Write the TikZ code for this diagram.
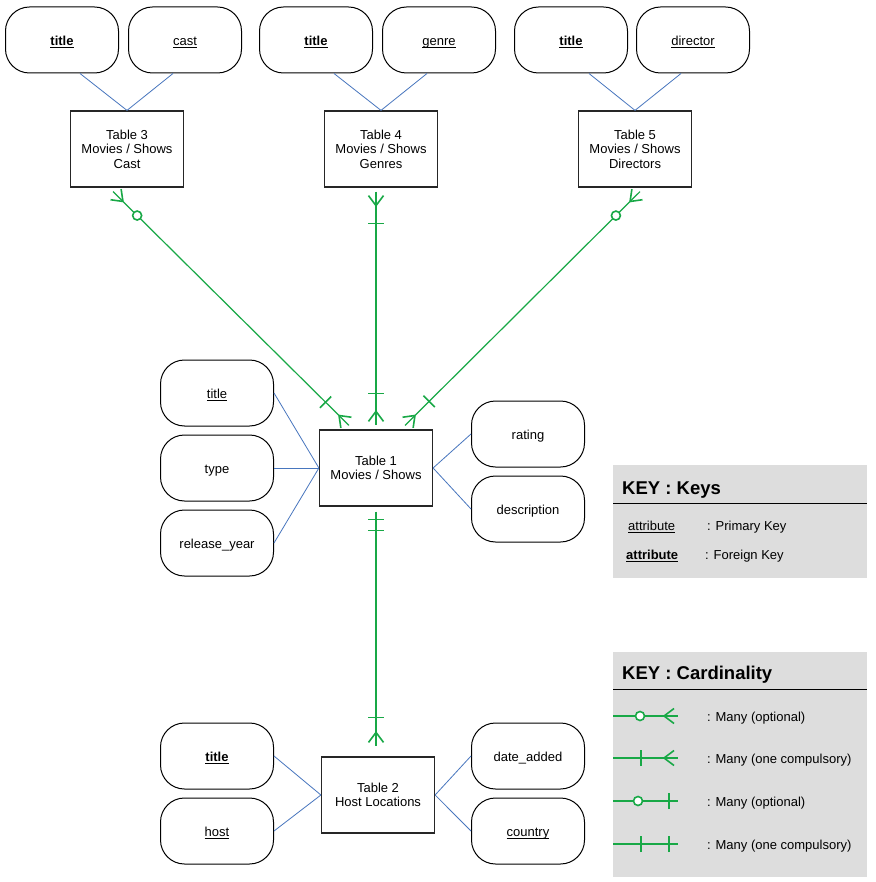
\documentclass[tikz,border=0pt]{standalone}
\usepackage{amsmath}
\usepackage{fontspec}
\setmainfont{Liberation Sans}
\usepackage{tikz}
\usetikzlibrary{calc}
\usetikzlibrary{decorations.markings}

\definecolor{relgreen}{RGB}{24,168,70}
\definecolor{linkblue}{RGB}{72,118,190}
\definecolor{keygray}{RGB}{221,221,221}

\newcommand{\pkey}[1]{\underline{\smash[b]{#1}}}
\newcommand{\fkey}[1]{\textbf{\underline{\smash[b]{#1}}}}

\tikzset{
  attr/.style={draw, line width=1pt, rounded corners=24pt, minimum width=113pt, minimum height=66pt, text height=13.5pt, text depth=2.5pt},
  tbl/.style={draw=black!85, line width=1.2pt, minimum width=113pt, minimum height=76pt, align=center},
  link/.style={draw=linkblue, line width=0.8pt},
  rel/.style={draw=relgreen, line width=1.2pt, postaction={decorate}},
  mk/.style={draw=relgreen, line width=1.6pt},
  many start/.style={decoration={markings, mark=at position 4pt with {\draw[mk] (10pt,0) -- (0,7.5pt) (10pt,0) -- (0,-7.5pt);}}},
  many end/.style={decoration={markings, mark=at position -4pt with {\draw[mk] (-10pt,0) -- (0,7.5pt) (-10pt,0) -- (0,-7.5pt);}}},
  one at/.style={decoration={markings, mark=at position #1 with {\draw[mk] (0,-8pt) -- (0,8pt);}}},
  zero at/.style={decoration={markings, mark=at position #1 with {\draw[mk, fill=white] (0,0) circle (4.5pt);}}},
  keyhead/.style={anchor=west, inner sep=0pt, font=\fontsize{18.5}{20}\selectfont\bfseries},
  keytext/.style={anchor=west, inner sep=0pt}
}

\begin{document}
\begin{tikzpicture}[x=1pt, y=-1pt, every node/.style={font=\fontsize{13}{14.5}\selectfont}]
      \fill[white] (0, 0) rectangle (875, 882);
      \useasboundingbox (0, 0) rectangle (875, 882);

      % top tables
      \node [attr] (ttl3) at (62, 40) {\fkey{title}};
      \node [attr] (cast3) at (185, 40) {\pkey{cast}};
      \node [tbl] (tbl3) at (127, 149) {Table 3\\Movies / Shows\\Cast};
      \node [attr] (ttl4) at (316, 40) {\fkey{title}};
      \node [attr] (genre4) at (439, 40) {\pkey{genre}};
      \node [tbl] (tbl4) at (381, 149) {Table 4\\Movies / Shows\\Genres};
      \node [attr] (ttl5) at (571, 40) {\fkey{title}};
      \node [attr] (dir5) at (693, 40) {\pkey{director}};
      \node [tbl] (tbl5) at (635, 149) {Table 5\\Movies / Shows\\Directors};

      \draw [link] ($(ttl3.south)+(18, 0)$) -- (tbl3.north);
      \draw [link] ($(cast3.south)+(-12, 0)$) -- (tbl3.north);
      \draw [link] ($(ttl4.south)+(18, 0)$) -- (tbl4.north);
      \draw [link] ($(genre4.south)+(-12, 0)$) -- (tbl4.north);
      \draw [link] ($(ttl5.south)+(18, 0)$) -- (tbl5.north);
      \draw [link] ($(dir5.south)+(-12, 0)$) -- (tbl5.north);

      % movies / shows
      \node [tbl] (tbl1) at (376, 468) {Table 1\\Movies / Shows};
      \node [attr] (ttl1) at (217, 393) {\pkey{title}};
      \node [attr] (type1) at (217, 468) {type};
      \node [attr] (year1) at (217, 543) {release\_year};
      \node [attr] (rating1) at (528, 434) {rating};
      \node [attr] (desc1) at (528, 509) {description};

      \draw [link] (ttl1.east) -- (tbl1.west);
      \draw [link] (type1.east) -- (tbl1.west);
      \draw [link] (year1.east) -- (tbl1.west);
      \draw [link] (tbl1.east) -- (rating1.west);
      \draw [link] (tbl1.east) -- (desc1.west);

      % host locations
      \node [tbl] (tbl2) at (378, 795) {Table 2\\Host Locations};
      \node [attr] (ttl2) at (217, 756) {\fkey{title}};
      \node [attr] (host2) at (217, 831) {\pkey{host}};
      \node [attr] (date2) at (528, 756) {date\_added};
      \node [attr] (ctry2) at (528, 831) {\pkey{country}};

      \draw [link] (ttl2.east) -- (tbl2.west);
      \draw [link] (host2.east) -- (tbl2.west);
      \draw [link] (tbl2.east) -- (date2.west);
      \draw [link] (tbl2.east) -- (ctry2.west);

      % relations
      \draw [rel, many start, zero at=34pt, one at=-33pt, many end] ($(tbl3.south)+(-14, 4)$) -- ($(tbl1.north)+(-27, -4)$);
      \draw [rel, many start, one at=32pt, one at=-32pt, many end] ($(tbl4.south -| tbl1.north)+(0, 4)$) -- ($(tbl1.north)+(0, -4)$);
      \draw [rel, many start, zero at=34pt, one at=-34pt, many end] ($(tbl5.south)+(5, 4)$) -- ($(tbl1.north)+(29, -4)$);
      \draw [rel, one at=8pt, one at=19pt, one at=-29pt, many end] ($(tbl1.south)+(0, 5)$) -- ($(tbl2.north -| tbl1.south)+(0, -10)$);

      % key : keys
      \fill [keygray] (613, 465) rectangle (867, 578);
      \draw [line width=1pt] (613, 503) -- (867, 503);
      \node [keyhead] (keyshead) at (622, 490) {KEY : Keys};
      \node [keytext] (pkatt) at (628, 527) {\pkey{attribute}};
      \node [keytext] (pktxt) at (707, 527) {: Primary Key};
      \node [keytext] (fkatt) at (626, 556) {\fkey{attribute}};
      \node [keytext] (fktxt) at (705, 556) {: Foreign Key};

      % key : cardinality
      \fill [keygray] (613, 652) rectangle (867, 877);
      \draw [line width=1pt] (613, 689) -- (867, 689);
      \node [keyhead] (cardhead) at (622, 675) {KEY : Cardinality};
      \foreach \y [count=\i] in {716, 758, 801, 844} {
        \coordinate (ka\i) at (613, \y);
        \coordinate (kb\i) at (678, \y);
      }
      \draw [rel, zero at=-38pt, many end] (ka1) -- (kb1);
      \draw [rel, one at=-37pt, many end] (ka2) -- (kb2);
      \draw [rel, zero at=-40pt, one at=-9pt] (ka3) -- (kb3);
      \draw [rel, one at=-37pt, one at=-9pt] (ka4) -- (kb4);
      \node [keytext] (card1) at (707, 718) {: Many (optional)};
      \node [keytext] (card2) at (707, 760) {: Many (one compulsory)};
      \node [keytext] (card3) at (707, 803) {: Many (optional)};
      \node [keytext] (card4) at (707, 846) {: Many (one compulsory)};
\end{tikzpicture}
\end{document}
